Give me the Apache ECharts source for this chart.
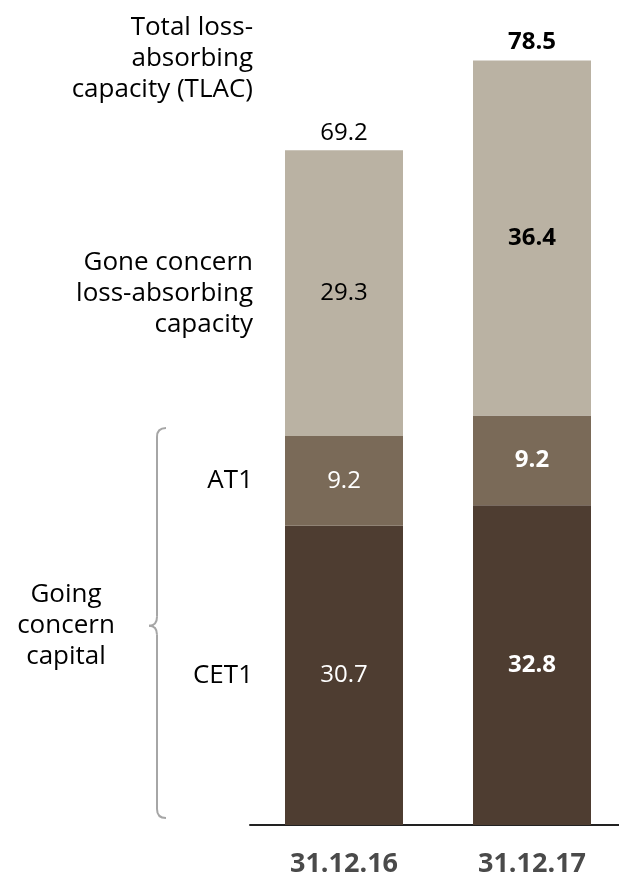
<!DOCTYPE html>
<html>
<head>
<meta charset="utf-8">
<script src="https://cdn.jsdelivr.net/npm/echarts@6/dist/echarts.min.js"></script>
<style>
  html, body { margin: 0; padding: 0; background: #ffffff; overflow: hidden; }
  #chart { width: 640px; height: 878px; }
</style>
</head>
<body>
<div id="chart"></div>
<script>
// Capital stack per reporting date (CHF bn)
const categories = ['31.12.16', '31.12.17'];
const cet1 = [30.7, 32.8];
const at1 = [9.2, 9.2];
const goneConcern = [29.3, 36.4];
const tlacTotal = [69.2, 78.5];

const FONT = '"Open Sans", "Noto Sans", sans-serif';
const COLORS = { gone: '#bab2a3', at1: '#7a6a58', cet1: '#4e3d31' };
// the latest period is set in bold
const boldIdx = 1;

function items(values, color) {
  return values.map((v, i) => ({
    value: v,
    label: { fontWeight: i === boldIdx ? 'bold' : 'normal', color: color }
  }));
}

const chart = echarts.init(document.getElementById('chart'), null, { renderer: 'canvas' });

const seriesLabel = {
  show: true,
  position: 'inside',
  fontFamily: FONT,
  fontSize: 24,
  formatter: p => p.value.toFixed(1)
};

const CAPTION_SIZE = 26;
const CAPTION_LH = 31;

chart.setOption({
  animation: false,
  backgroundColor: '#ffffff',
  grid: { left: 250, top: 45, width: 376, bottom: 43, containLabel: false },
  xAxis: {
    type: 'category',
    data: categories,
    axisLine: { show: true, lineStyle: { color: '#222222', width: 2 } },
    axisTick: { show: false },
    axisLabel: {
      fontFamily: FONT, fontSize: 27, fontWeight: 'bold', color: '#4a4a4a', margin: 26
    }
  },
  yAxis: { type: 'value', min: 0, max: 80, show: false, splitLine: { show: false } },
  series: [
    {
      name: 'CET1', type: 'bar', stack: 'capital', barWidth: 118,
      itemStyle: { color: COLORS.cet1 },
      label: seriesLabel,
      data: items(cet1, '#ffffff')
    },
    {
      name: 'AT1', type: 'bar', stack: 'capital',
      itemStyle: { color: COLORS.at1 },
      label: seriesLabel,
      data: items(at1, '#ffffff')
    },
    {
      name: 'Gone concern', type: 'bar', stack: 'capital',
      itemStyle: { color: COLORS.gone },
      label: seriesLabel,
      data: items(goneConcern, '#000000')
    },
    {
      // invisible points carrying the TLAC totals above each bar
      name: 'TLAC', type: 'line', symbol: 'circle', symbolSize: 1, showSymbol: true,
      silent: true,
      itemStyle: { color: 'rgba(0,0,0,0)' },
      lineStyle: { opacity: 0 },
      label: {
        show: true, position: 'top', distance: 5,
        fontFamily: FONT, fontSize: 24, formatter: p => p.value.toFixed(1)
      },
      data: items(tlacTotal, '#000000')
    }
  ]
});

const yOf = v => chart.convertToPixel({ yAxisIndex: 0 }, v);
const at1Top = cet1[0] + at1[0];
const yCet1 = yOf(cet1[0] / 2);
const yAt1 = yOf(cet1[0] + at1[0] / 2);
const yGone = yOf(at1Top + goneConcern[0] / 2);
const yTlac = yOf(tlacTotal[0]) - 92;
const yBraceTop = yOf(at1Top) - 8;
const yBraceBottom = yOf(0) - 7;
const yBraceMid = yOf(cet1[0]) + 100;

const caption = (t, x, y, align) => ({
  type: 'text', x: x, y: y,
  style: {
    text: t, fontFamily: FONT, fontSize: CAPTION_SIZE, lineHeight: CAPTION_LH, fill: '#000000',
    align: align, verticalAlign: 'middle'
  }
});

// Curly bracket built from straight runs and quadratic bends
const bx = 157, bCurl = 9, bPoint = 149, r = 9;
const braceStroke = { stroke: '#a6a6a6', lineWidth: 2, fill: 'none' };
const seg = (x1, y1, x2, y2) => ({ type: 'line', shape: { x1, y1, x2, y2 }, style: braceStroke });
const bend = (x1, y1, cx, cy, x2, y2) => ({
  type: 'bezierCurve', shape: { x1, y1, cpx1: cx, cpy1: cy, x2, y2 }, style: braceStroke
});
const brace = [
  bend(bx + bCurl, yBraceTop, bx, yBraceTop, bx, yBraceTop + r),
  seg(bx, yBraceTop + r, bx, yBraceMid - r),
  bend(bx, yBraceMid - r, bx, yBraceMid, bPoint, yBraceMid),
  bend(bPoint, yBraceMid, bx, yBraceMid, bx, yBraceMid + r),
  seg(bx, yBraceMid + r, bx, yBraceBottom - r),
  bend(bx, yBraceBottom - r, bx, yBraceBottom, bx + bCurl, yBraceBottom)
];

chart.setOption({
  graphic: [
    caption('Total loss-\nabsorbing\ncapacity (TLAC)', 253, yTlac, 'right'),
    caption('Gone concern\nloss-absorbing\ncapacity', 253, yGone, 'right'),
    caption('AT1', 253, yAt1, 'right'),
    caption('CET1', 253, yCet1, 'right'),
    caption('Going\nconcern\ncapital', 66, yBraceMid, 'center')
  ].concat(brace)
});
</script>
</body>
</html>
